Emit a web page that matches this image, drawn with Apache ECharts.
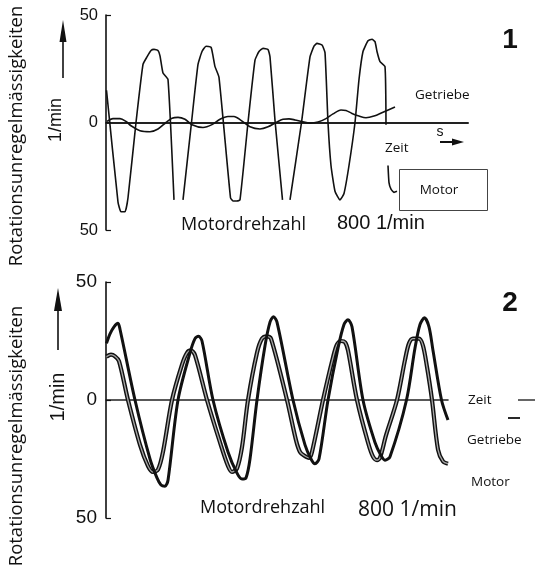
<!DOCTYPE html>
<html>
<head>
<meta charset="utf-8">
<script src="https://cdn.jsdelivr.net/npm/echarts@6/dist/echarts.min.js"></script>
<style>
html,body{margin:0;padding:0;background:#fff;}
#chart{width:535px;height:572px;}
</style>
</head>
<body>
<div id="chart"></div>
<script>
// ---- Data (time in arbitrary units, values in 1/min) ----
// Panel 1: Motor
const p1MotorT = [0.5,12,15,19,22,30,37,41,45,48,52,54,57,62,68,72,77,85.5,92,96,100,105,107,109,113,124.5,127,131,134,142,149,153,157,162,164,169,176.5,180,184,195.5,204,208,211,216,219,222,225,229,234,238,243,249,253,257,262,266,269,271,274,279,280,281,282,283,285,288,291];
const p1MotorV = [15,-37,-41.5,-41.5,-35,0,27,30.5,33.5,34,33.5,31,23,20,-36,null,-36,0,27,33,35.5,35,31,26,21,-35,-36.5,-36.5,-36,0,29,33,34.5,34,30.5,1,-36,null,-36,0,30.5,35.5,36.8,36,32.5,0,-20,-32,-36,-33,-20,0,20,33,38,38.7,37.6,33,28.3,26,-1,null,-20,-28,-31,-32.5,-32];
// Panel 1: Getriebe
const p1GetriebeT = [1,7,14,20,25,34,44,52,60,66,72,79,86,97,106,114,122,128,135,144,154,162,170,177,183,189,196,204,212,220,227,235,240,246,253,260,268,277,289];
const p1GetriebeV = [0.5,1.8,1.8,0.5,-1.5,-3.8,-4.3,-3,0,2,2.4,1.5,-1,-2.3,-1,1.5,2.8,2.8,1,-2,-3,-2,0,1.5,1.7,1.2,0.4,-0.3,0.2,1.8,4,5.8,5.6,4.2,3,2.2,3,4.8,7.2];
// Panel 2: Motor
const p2MotorT = [0.5,4,8,12,14,29,44,51,55,59,62,72,84,89,92.5,96,107,122,131,136,140,144,151,159,164,167.5,171,187,199,205,209,213,222,232,238,242,246,257,269,275,279,284,300.5,309,314,318.5,323,327,335.5,342];
const p2MotorV = [24,28,31,32.5,30,0,-25,-33,-36,-36.5,-34,0,20,26,27,25,0,-22,-31,-33.5,-33,-25,0,23,33,35.3,33,0,-19,-25,-27,-25,0,22,32,34,31,0,-18,-23.5,-25.5,-24,0,22,32,34.8,31,21,0,-8.5];
// Panel 2: Getriebe
const p2GetriebeT = [0.5,5,9,13,22,34,42,47,52,57,66,76,81,85,89,101,114,122,126,131,136,142,151,156,161,165,181,190,194,198,203,206,217,227,231,235,239,242,251,262,267,271,274,280,291,299,303,307,313,317,321,326,332,337,342];
const p2GetriebeV = [18.4,19.2,18.5,16.5,0,-19,-28,-30.5,-29.5,-22,0,15,20,21,19,0,-18,-28,-30.5,-29,-20,0,20,26,27,26,0,-17,-22,-23.5,-24.5,-22,0,18,23.5,25,24.5,21,0,-18,-24,-25.5,-24.5,-15,0,17,24,26,26,23,14,0,-21,-26,-27];
// Axis ticks
const yTicks = [-50, 0, 50];
const yName = 'Rotationsunregelmässigkeiten';
const unitName = '1/min';
const speedLabel = 'Motordrehzahl';
const speedValue = '800 1/min';

const zip = (t, v) => t.map((x, i) => [x, v[i]]);

const chart = echarts.init(document.getElementById('chart'), null, {renderer: 'canvas'});
const ink = '#111';
function yAx(idx, fs, margin) {
  return {
    gridIndex: idx, type: 'value', min: yTicks[0], max: yTicks[2], interval: 50,
    axisLine: {show: true, lineStyle: {color: ink, width: 1.6}},
    axisTick: {show: true, inside: true, length: 5, lineStyle: {color: ink, width: 1.2}},
    axisLabel: {color: ink, fontFamily: 'Liberation Sans', fontSize: fs, margin: margin,
      formatter: v => String(Math.abs(v))},
    splitLine: {show: false}
  };
}
function xAx(idx, max, w) {
  return {
    gridIndex: idx, type: 'value', min: 0, max: max,
    axisLine: {show: true, onZero: true, lineStyle: {color: '#222', width: w}},
    axisTick: {show: false}, axisLabel: {show: false}, splitLine: {show: false}
  };
}
function t(text, x, y, font, align, rot) {
  const o = {type: 'text', x: x, y: y, z: 100,
    style: {text: text, font: font, fill: ink, textAlign: align || 'left', textVerticalAlign: 'middle'}};
  if (rot) o.rotation = rot;
  return o;
}
const small = '13.5px "Open Sans"';

const option = {
  backgroundColor: '#fff',
  animation: false,
  grid: [
    {left: 106, top: 15, width: 362, height: 215, outerBoundsMode: 'none'},
    {left: 106, top: 282, width: 342, height: 236, outerBoundsMode: 'none'}
  ],
  xAxis: [xAx(0, 362, 2), xAx(1, 342, 1.6)],
  yAxis: [yAx(0, 16.5, 8), yAx(1, 19, 9)],
  series: [
    {type: 'line', xAxisIndex: 0, yAxisIndex: 0, data: zip(p1GetriebeT, p1GetriebeV), smooth: 0.3,
      showSymbol: false, lineStyle: {color: ink, width: 1.6}, z: 3},
    {type: 'line', xAxisIndex: 0, yAxisIndex: 0, data: zip(p1MotorT, p1MotorV), smooth: 0.15,
      connectNulls: false, showSymbol: false, lineStyle: {color: ink, width: 1.6}, z: 4},
    {type: 'line', xAxisIndex: 1, yAxisIndex: 1, data: zip(p2GetriebeT, p2GetriebeV), smooth: 0.3,
      showSymbol: false, lineStyle: {color: '#111', width: 4.2}, z: 3},
    {type: 'line', xAxisIndex: 1, yAxisIndex: 1, data: zip(p2GetriebeT, p2GetriebeV), smooth: 0.3,
      showSymbol: false, lineStyle: {color: '#a8a8a8', width: 1.3}, z: 4, silent: true},
    {type: 'line', xAxisIndex: 1, yAxisIndex: 1, data: zip(p2MotorT, p2MotorV), smooth: 0.3,
      showSymbol: false, lineStyle: {color: ink, width: 3}, z: 5}
  ],
  graphic: [
    // Panel 1
    t(yName, 17, 136, '18.5px "Open Sans"', 'center', Math.PI / 2),
    t(unitName, 56, 120, '18px "Liberation Sans"', 'center', Math.PI / 2),
    {type: 'line', z: 100, shape: {x1: 63, y1: 78, x2: 63, y2: 38}, style: {stroke: ink, lineWidth: 1.6}},
    {type: 'polygon', z: 100, shape: {points: [[63, 20], [59.5, 42], [66.5, 42]]}, style: {fill: ink}},
    t('1', 510, 40, 'bold 28px "Liberation Sans"', 'center'),
    t('Getriebe', 415, 95, small),
    t('Zeit', 385, 148, small),
    t('s', 440, 132, '14px "Liberation Sans"', 'center'),
    {type: 'line', z: 100, shape: {x1: 440, y1: 142, x2: 454, y2: 142}, style: {stroke: ink, lineWidth: 2}},
    {type: 'polygon', z: 100, shape: {points: [[464, 142], [452, 138.5], [452, 145.5]]}, style: {fill: ink}},
    {type: 'rect', z: 100, shape: {x: 399.5, y: 169.5, width: 88, height: 41}, style: {fill: '#fff', stroke: '#444', lineWidth: 1}},
    t('Motor', 439, 190, small, 'center'),
    t(speedLabel, 181, 225, '18px "Open Sans"'),
    t(speedValue, 337, 223, '20px "Liberation Sans"'),
    // Panel 2
    t(yName, 17, 436, '18.5px "Open Sans"', 'center', Math.PI / 2),
    t(unitName, 58, 397, '20px "Liberation Sans"', 'center', Math.PI / 2),
    {type: 'line', z: 100, shape: {x1: 58, y1: 350, x2: 58, y2: 306}, style: {stroke: ink, lineWidth: 1.6}},
    {type: 'polygon', z: 100, shape: {points: [[58, 288], [54, 311], [62, 311]]}, style: {fill: ink}},
    t('2', 510, 303, 'bold 28px "Liberation Sans"', 'center'),
    t('Zeit', 468, 400, small),
    {type: 'line', z: 100, shape: {x1: 518, y1: 400, x2: 535, y2: 400}, style: {stroke: '#333', lineWidth: 1.5}},
    {type: 'line', z: 100, shape: {x1: 508, y1: 418, x2: 520, y2: 418}, style: {stroke: ink, lineWidth: 1.8}},
    t('Getriebe', 467, 440, small),
    t('Motor', 471, 482, small),
    t(speedLabel, 200, 508, '18px "Open Sans"'),
    t(speedValue, 358, 510, '21px "Open Sans"')
  ]
};
chart.setOption(option);
</script>
</body>
</html>
